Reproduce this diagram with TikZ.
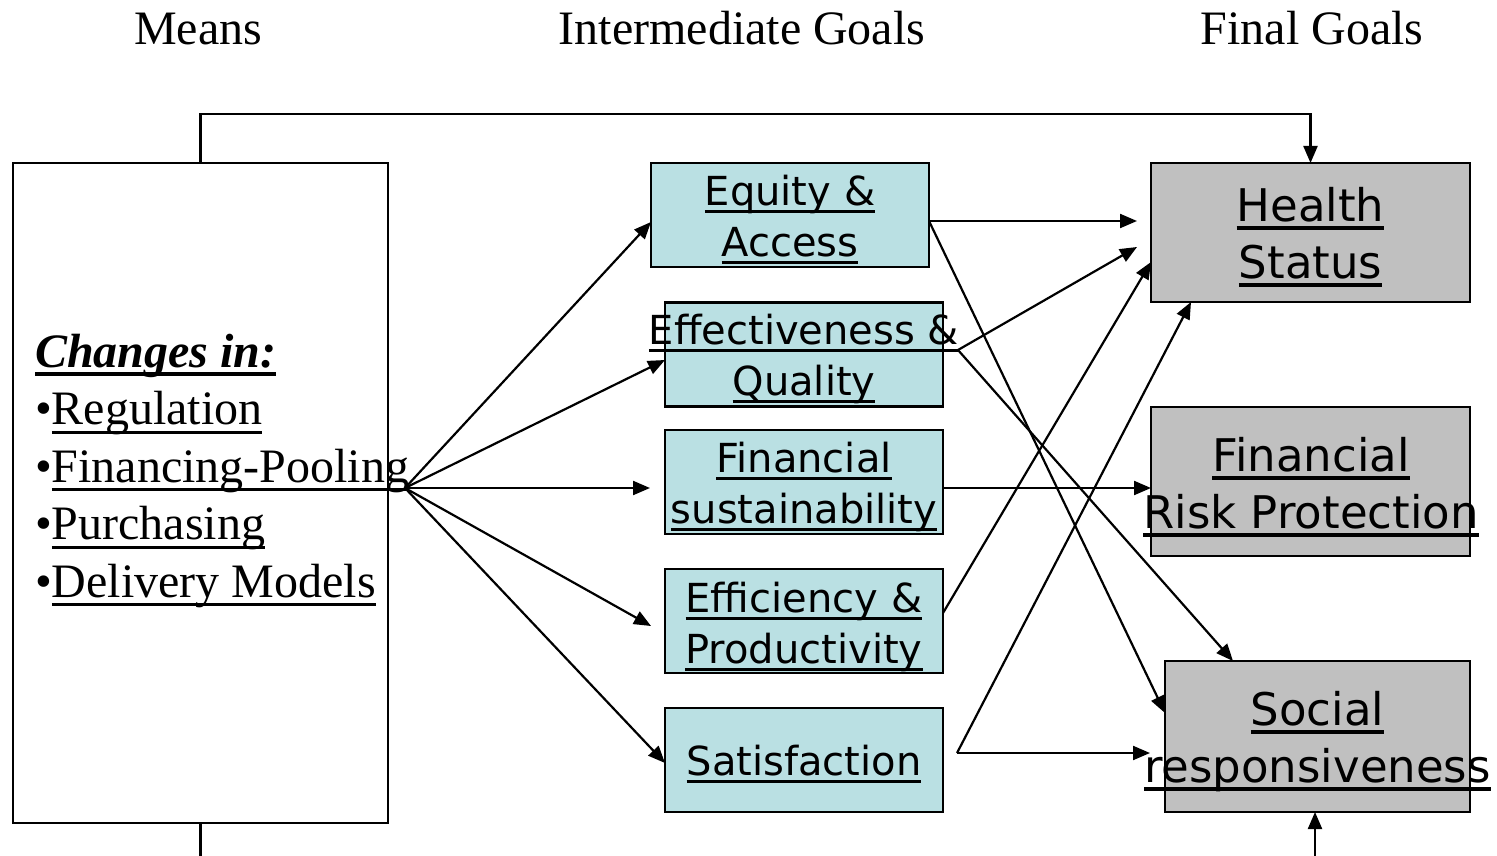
\documentclass[tikz,border=0pt]{standalone}
\usepackage{fontspec}
\setmainfont{Liberation Serif}
\newfontfamily\boxfont{DejaVu Sans}
\usetikzlibrary{arrows.meta}

\definecolor{midfill}{RGB}{186,224,227}
\definecolor{finalfill}{RGB}{192,192,192}

% underline with adjustable rule thickness
\newcommand\ulx[2][0.075em]{\setbox0\hbox{#2}\leavevmode\rlap{\rule[-0.19em]{\wd0}{#1}}\box0}

\tikzset{
  every node/.style={inner sep=0pt, outer sep=0pt},
  heading/.style={font=\fontsize{48}{57.5}\selectfont, anchor=base},
  meansbox/.style={draw, line width=2.2pt, minimum width=375pt, minimum height=660pt},
  midbox/.style={draw, line width=2.2pt, fill=midfill, minimum width=278pt, minimum height=104pt},
  finalbox/.style={draw, line width=2.2pt, fill=finalfill, minimum width=319pt},
  midtext/.style={font=\boxfont\fontsize{40}{51}\selectfont, align=center, anchor=base},
  finaltext/.style={font=\boxfont\fontsize{45}{57}\selectfont, align=center, anchor=base},
  conn/.style={line width=2.2pt, -{Triangle[length=17pt,width=14pt]}},
  plain/.style={line width=2.2pt}
}

\begin{document}
\begin{tikzpicture}[x=1pt, y=-1pt]
\useasboundingbox (0,0) rectangle (1497,856);

% column headings
\node[heading] (hMeans) at (198,45) {Means};
\node[heading] (hInter) at (742,45) {Intermediate Goals};
\node[heading] (hFinal) at (1312,45) {Final Goals};

% means box (text anchored at the baseline of its last line)
\node[meansbox] (means) at (200.5,493) {};
\node[anchor=base west, align=left, font=\fontsize{48}{57.5}\selectfont] (meanstext) at (35,597)
  {\ulx[0.09em]{\textbf{\textit{Changes in:}}}\\
   •\ulx[0.055em]{Regulation}\\
   •\ulx[0.055em]{Financing-Pooling}\\
   •\ulx[0.055em]{Purchasing}\\
   •\ulx[0.055em]{Delivery Models}};

% intermediate goals
\node[midbox] (eq) at (790,215) {};
\node[midbox] (ef) at (804,354.5) {};
\node[midbox] (fs) at (804,482) {};
\node[midbox] (ep) at (804,621) {};
\node[midbox] (sa) at (804,760) {};
\node[midtext] (eqt) at (790,256) {\ulx{Equity \&}\\\ulx{Access}};
\node[midtext] (eft) at (804,395) {\ulx{Effectiveness \&}\\\ulx{Quality}};
\node[midtext] (fst) at (804,523) {\ulx{Financial}\\\ulx{sustainability}};
\node[midtext] (ept) at (804,663) {\ulx{Efficiency \&}\\\ulx{Productivity}};
\node[midtext] (sat) at (804,775) {\ulx{Satisfaction}};

% final goals
\node[finalbox, minimum height=139pt] (hs) at (1310.5,232.5) {};
\node[finalbox, minimum height=149pt] (fr) at (1310.5,481.5) {};
\node[finalbox, minimum width=305pt, minimum height=151pt] (sr) at (1317.5,736.5) {};
\node[finaltext] (hst) at (1310.5,278) {\ulx[0.085em]{Health}\\\ulx[0.085em]{Status}};
\node[finaltext] (frt) at (1311,528) {\ulx[0.085em]{Financial}\\\ulx[0.085em]{Risk Protection}};
\node[finaltext] (srt) at (1317.5,782) {\ulx[0.085em]{Social}\\\ulx[0.085em]{responsiveness}};

% fan of means into intermediate goals
\coordinate (fan) at (405,488);
\draw[conn] (fan) -- ([yshift=-7pt]eq.west);
\draw[conn] (fan) -- ([yshift=-5.5pt]ef.west);
\draw[conn] (fan) -- ([xshift=-15pt,yshift=-6pt]fs.west);
\draw[conn] (fan) -- ([xshift=-14pt,yshift=-5pt]ep.west);
\draw[conn] (fan) -- ([yshift=-3pt]sa.west);

% intermediate goals into final goals
\draw[conn] ([yshift=-6pt]eq.east) -- ([xshift=-14pt,yshift=11.5pt]hs.west);
\draw[conn] ([yshift=-6pt]eq.east) -- ([yshift=23.5pt]sr.west);
\draw[conn] ([xshift=15pt,yshift=4.5pt]ef.east) -- ([xshift=-14pt,yshift=-14.5pt]hs.west);
\draw[conn] ([xshift=15pt,yshift=4.5pt]ef.east) -- ([xshift=-84.5pt]sr.north);
\draw[conn] ([yshift=-6pt]fs.east) -- ([yshift=-6.5pt]fr.west);
\draw[conn] ([yshift=8pt]ep.east) -- ([yshift=-29.5pt]hs.west);
\draw[conn] ([xshift=14pt,yshift=7pt]sa.east) -- ([xshift=-119.5pt]hs.south);
\draw[conn] ([xshift=14pt,yshift=7pt]sa.east) -- ([xshift=-15pt,yshift=-16.5pt]sr.west);

% direct links from means to final goals
\draw[conn] (means.north) -- ++(0,-49) -| (hs.north);
\coordinate (loopL) at (means.south |- 0,856);
\coordinate (loopR) at ([xshift=-2.5pt]sr.south |- 0,856);
\draw[plain] (means.south) -- (loopL);
\draw[conn] (loopR) -- ([xshift=-2.5pt]sr.south);
\end{tikzpicture}
\end{document}
